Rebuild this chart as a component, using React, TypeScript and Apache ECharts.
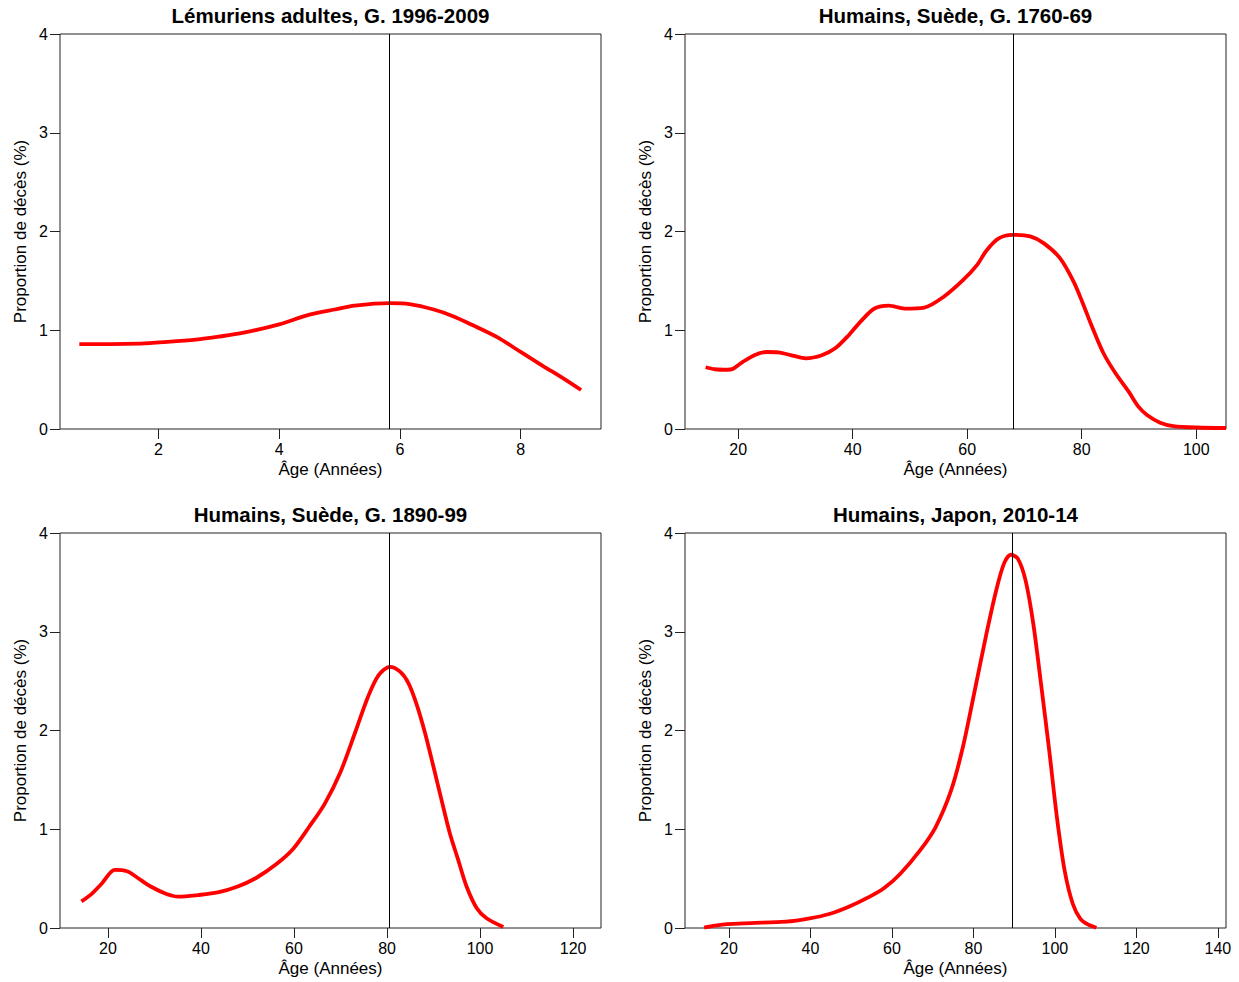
import React, { useEffect, useRef } from "react";
import * as echarts from "echarts";

// ---- Data ----
const titles = [
  "Lémuriens adultes, G. 1996-2009",
  "Humains, Suède, G. 1760-69",
  "Humains, Suède, G. 1890-99",
  "Humains, Japon, 2010-14",
];

const lemurAge = [0.69, 1.2, 1.7, 2.1, 2.62, 3.0, 3.41, 4.0, 4.46, 4.92, 5.25, 5.84, 6.16, 6.56, 6.89, 7.21, 7.61, 8.0, 8.39, 8.66, 9.0];
const lemurDeaths = [0.86, 0.86, 0.865, 0.88, 0.905, 0.935, 0.975, 1.06, 1.15, 1.21, 1.25, 1.275, 1.265, 1.21, 1.14, 1.05, 0.93, 0.78, 0.63, 0.53, 0.395];

const swe1760Age = [14.3, 15.9, 18.1, 19.1, 20.8, 22.9, 24.9, 27.0, 29.7, 31.8, 34.6, 37.0, 39.3, 41.4, 43.8, 46.3, 49.0, 52.5, 55.9, 59.3, 61.7, 63.4, 65.5, 67.9, 71.0, 73.4, 76.2, 78.6, 80.3, 81.8, 83.8, 85.9, 88.2, 89.9, 91.4, 93.7, 96.0, 100.1, 105.2];
const swe1760Deaths = [0.625, 0.605, 0.6, 0.61, 0.68, 0.75, 0.78, 0.777, 0.74, 0.716, 0.747, 0.82, 0.95, 1.09, 1.22, 1.25, 1.22, 1.23, 1.34, 1.51, 1.66, 1.81, 1.93, 1.966, 1.95, 1.88, 1.73, 1.49, 1.256, 1.036, 0.767, 0.564, 0.378, 0.226, 0.142, 0.064, 0.03, 0.015, 0.01];

const swe1890Age = [14.3, 16.4, 18.6, 21.5, 24.1, 26.2, 29.2, 32.6, 35.2, 39.4, 43.6, 47.9, 52.1, 56.3, 59.8, 63.2, 66.6, 70.0, 73.3, 75.9, 78.2, 80.6, 82.8, 84.6, 86.4, 88.2, 90.0, 91.7, 93.5, 95.3, 97.1, 99.3, 101.4, 105.0];
const swe1890Deaths = [0.27, 0.34, 0.446, 0.588, 0.574, 0.514, 0.42, 0.345, 0.318, 0.334, 0.36, 0.42, 0.514, 0.65, 0.8, 1.02, 1.257, 1.58, 2.0, 2.34, 2.56, 2.645, 2.596, 2.48, 2.26, 1.97, 1.63, 1.3, 0.96, 0.69, 0.42, 0.2, 0.098, 0.01];

const japanAge = [13.9, 16.6, 19.5, 25.3, 34.0, 39.8, 44.6, 49.4, 54.2, 58.1, 62.0, 66.8, 70.7, 74.5, 77.4, 80.3, 83.2, 85.6, 87.5, 89.2, 90.9, 92.8, 94.7, 96.6, 98.6, 100.5, 102.4, 104.4, 106.3, 108.2, 110.2];
const japanDeaths = [0.003, 0.024, 0.04, 0.05, 0.064, 0.098, 0.142, 0.216, 0.31, 0.405, 0.547, 0.78, 1.02, 1.39, 1.83, 2.4, 2.98, 3.42, 3.69, 3.78, 3.74, 3.52, 3.08, 2.47, 1.8, 1.12, 0.58, 0.243, 0.09, 0.034, 0.003];

const modalAges = [5.83, 68.0, 80.4, 89.6];

const xTicks1 = [2, 4, 6, 8];
const xTicks2 = [20, 40, 60, 80, 100];
const xTicks3 = [20, 40, 60, 80, 100, 120];
const xTicks4 = [20, 40, 60, 80, 100, 120, 140];
const yTicks = [0, 1, 2, 3, 4];

const xRanges = [
  [0.37, 9.33],
  [10.7, 105.2],
  [9.7, 126.0],
  [9.2, 142.0],
];

const xLabel = "Âge (Années)";
const yLabel = "Proportion de décès (%)";

export default function App() {
  const ref = useRef<HTMLDivElement>(null);

  useEffect(() => {
    document.body.style.margin = "0";
    if (!ref.current) return;
    const fam = "'Liberation Sans', Arial, sans-serif";
    const titleSize = 20.5;
    const tickSize = 16;
    const nameSize = 17;

    const chart = echarts.init(ref.current, undefined, { renderer: "svg" });

    const grids = [
      { left: 60, top: 34, width: 541, height: 395 },
      { left: 685, top: 34, width: 541, height: 395 },
      { left: 60, top: 533, width: 541, height: 395 },
      { left: 685, top: 533, width: 541, height: 395 },
    ];
    const xTicks = [xTicks1, xTicks2, xTicks3, xTicks4];
    const ages = [lemurAge, swe1760Age, swe1890Age, japanAge];
    const deaths = [lemurDeaths, swe1760Deaths, swe1890Deaths, japanDeaths];

    const option: any = {
      animation: false,
      backgroundColor: "#ffffff",
      grid: grids.map((g) => ({
        ...g,
        show: true,
        borderColor: "#222",
        borderWidth: 1,
        backgroundColor: "transparent",
        containLabel: false,
      })),
      xAxis: grids.map((_, i) => ({
        type: "value",
        gridIndex: i,
        min: xRanges[i][0],
        max: xRanges[i][1],
        axisLine: { show: false },
        splitLine: { show: false },
        axisTick: {
          show: true,
          inside: false,
          length: 10,
          customValues: xTicks[i],
          lineStyle: { color: "#222", width: 1 },
        },
        axisLabel: {
          show: true,
          customValues: xTicks[i],
          margin: 12,
          color: "#000",
          fontFamily: fam,
          fontSize: tickSize,
        },
        name: xLabel,
        nameLocation: "middle",
        nameGap: 32,
        nameTextStyle: { color: "#000", fontFamily: fam, fontSize: nameSize },
      })),
      yAxis: grids.map((_, i) => ({
        type: "value",
        gridIndex: i,
        min: 0,
        max: 4,
        interval: 1,
        axisLine: { show: false },
        splitLine: { show: false },
        axisTick: {
          show: true,
          inside: false,
          length: 10,
          customValues: yTicks,
          lineStyle: { color: "#222", width: 1 },
        },
        axisLabel: {
          show: true,
          customValues: yTicks,
          margin: 12,
          color: "#000",
          fontFamily: fam,
          fontSize: tickSize,
        },
        name: yLabel,
        nameLocation: "middle",
        nameGap: 31,
        nameTextStyle: { color: "#000", fontFamily: fam, fontSize: nameSize },
      })),
      series: grids.map((_, i) => ({
        type: "line",
        xAxisIndex: i,
        yAxisIndex: i,
        data: ages[i].map((a, k) => [a, deaths[i][k]]),
        showSymbol: false,
        symbol: "none",
        smooth: 0.3,
        clip: true,
        lineStyle: { color: "#ff0000", width: 3.8 },
        markLine: {
          silent: true,
          symbol: "none",
          label: { show: false },
          lineStyle: { color: "#000", width: 1, type: "solid" },
          data: [{ xAxis: modalAges[i] }],
        },
      })),
      graphic: grids.map((g, i) => ({
        type: "text",
        x: g.left + g.width / 2,
        y: g.top - 19,
        style: {
          text: titles[i],
          fill: "#000",
          font: `bold ${titleSize}px ${fam}`,
          fontFamily: fam,
          fontSize: titleSize,
          fontWeight: "bold",
          align: "center",
          verticalAlign: "middle",
          textAlign: "center",
          textVerticalAlign: "middle",
        },
      })),
    };

    chart.setOption(option);
    return () => {
      chart.dispose();
    };
  }, []);

  return <div ref={ref} style={{ width: 1239, height: 982 }} />;
}
